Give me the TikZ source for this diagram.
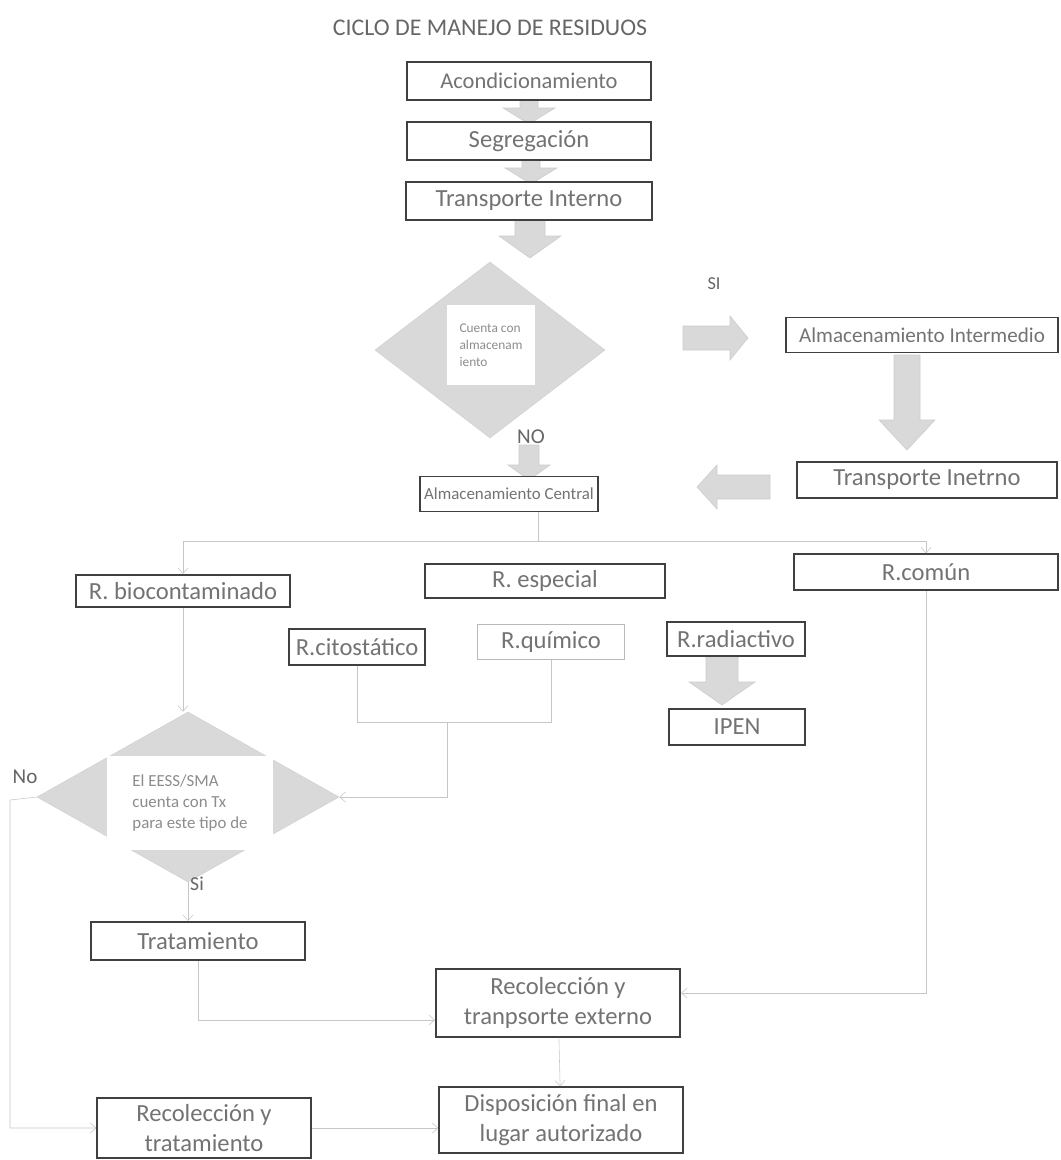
\documentclass[tikz,border=0pt]{standalone}
\usepackage{fontspec}
\setmainfont{Carlito}
\usetikzlibrary{shapes,arrows.meta,positioning,calc}

% flecha de bloque: cola, angulo, largo, medio cuerpo, media punta, largo punta
\newcommand{\blkarrow}[6]{\filldraw[fill=gray!30,draw=gray!40,shift={#1},rotate=#2] (0,-#4) -- ({#3-#6},-#4) -- ({#3-#6},-#5) -- (#3,0) -- ({#3-#6},#5) -- ({#3-#6},#4) -- (0,#4) -- cycle;}

\begin{document}
\begin{tikzpicture}[x=0.025cm,y=-0.025cm,node distance=1.5cm,>={Straight Barb[length=4pt,width=7pt]},
    box/.style={draw=black!75,line width=1.4pt,fill=white,text=black!55,font=\fontsize{17.5}{21}\selectfont,inner sep=1pt,minimum height=0.9cm,align=center},
    link/.style={draw=gray!45,thin},
    decision/.style={diamond,fill=gray!30,draw=gray!35,inner sep=0pt},
    note/.style={fill=white,text=black!45,align=left,inner sep=0pt},
    tag/.style={text=black!60,font=\fontsize{14}{16}\selectfont}]

                \useasboundingbox (0,0) rectangle (1061,1160);

                \node[tag, font=\fontsize{17}{20}\selectfont] (title) at (490,28) {CICLO DE MANEJO DE RESIDUOS};

                % flechas de bloque (debajo de las cajas)
                \blkarrow{(529,98)}{-90}{26}{9}{26}{16}
                \blkarrow{(531,158)}{-90}{26}{9}{26}{16}
                \blkarrow{(530,218)}{-90}{40}{15}{31}{22}
                \blkarrow{(683,338)}{0}{65}{12}{22}{18}
                \blkarrow{(907,355)}{-90}{95}{13}{28}{30}
                \blkarrow{(770,487)}{180}{73}{12}{22}{20}
                \blkarrow{(529,445)}{-90}{35}{10}{21}{15}
                \blkarrow{(722,656)}{-90}{49}{16}{33}{23}

                \node[box, font=\fontsize{16}{20}\selectfont, minimum width=6.1cm, minimum height=0.95cm] (acond) at (529,81) {Acondicionamiento};
                \node[box, minimum width=6.1cm, minimum height=0.95cm] (segreg) [below of = acond] {Segregación};
                \node[box, minimum width=6.15cm, minimum height=0.95cm] (trint) [below of = segreg] {Transporte Interno};

                \node[decision, minimum width=5.75cm, minimum height=4.4cm] (dec1) at (490,350) {};
                \node[note, font=\fontsize{9.5}{12}\selectfont, minimum width=2.2cm, minimum height=2cm] (q1) at (491,345) {Cuenta con\\almacenam\\iento};

                \node[tag, font=\fontsize{13}{15}\selectfont] (si1) at (714,284) {SI};
                \node[box, font=\fontsize{15}{18}\selectfont, minimum width=6.78cm, minimum height=0.875cm] (almint) at (922,335) {Almacenamiento Intermedio};
                \node[box, minimum width=6.5cm] (trinet) at (927,480) {Transporte Inetrno};

                \node[tag, font=\fontsize{15}{18}\selectfont] (no1) at (531,437) {NO};
                \node[box, font=\fontsize{12}{15}\selectfont, minimum width=4.43cm, minimum height=0.875cm] (central) at (509,494) {Almacenamiento Central};

                % tipos de residuo
                \node[box, minimum width=5.33cm, minimum height=0.8cm] (rbio) at (183,591) {R. biocontaminado};
                \node[box, minimum width=6cm, minimum height=0.83cm] (resp) at (545,581) {R. especial};
                \node[box, minimum width=6.58cm, minimum height=0.88cm] (rcomun) at (926,572) {R.común};
                \node[box, minimum width=3.38cm, minimum height=0.88cm] (rcito) at (357,647) {R.citostático};
                \node[box, draw=gray!55, line width=0.8pt, minimum width=3.68cm, minimum height=0.88cm] (rquim) at (551,642) {R.químico};
                \node[box, minimum width=3.45cm, minimum height=0.85cm] (rradio) at (736,639) {R.radiactivo};
                \node[box, minimum width=3.38cm, minimum height=0.88cm] (ipen) at (737,727) {IPEN};

                \node[decision, minimum width=7.55cm, minimum height=4.25cm] (dec2) at (188,797) {};
                \node[note, font=\fontsize{12}{15}\selectfont, minimum width=4.13cm, minimum height=2.33cm] (q2) at (190,803) {El EESS/SMA\\cuenta con Tx\\para este tipo de};
                \node[tag, font=\fontsize{15}{18}\selectfont] (no2) at (25,777) {No};
                \node[tag] (si2) at (197,884) {Si};

                \node[box, minimum width=5.33cm, minimum height=0.95cm] (trat) at (198,941) {Tratamiento};
                \node[box, minimum width=6.1cm, minimum height=1.68cm] (recoltrans) at (558,1003) {Recolección y\\tranpsorte externo};
                \node[box, minimum width=6.08cm, minimum height=1.63cm] (dispfinal) at (561,1120) {Disposición final en\\lugar autorizado};
                \node[box, minimum width=5.33cm, minimum height=1.5cm] (recoltrat) at (204,1128) {Recolección y\\tratamiento};

                \coordinate (split) at (538,541);
                \coordinate (cq) at (447,722);
                \coordinate (nol) at (10,800);

                \draw[link] (central.south -| split) -- (split);
                \draw[link,->] (split) -| (rbio.north);
                \draw[link,->] (split) -| (rcomun.north);
                \draw[link] (rcito.south) |- (cq) -| (rquim.south);
                \draw[link,->] (cq) |- (dec2.east);
                \draw[link,->] (rbio.south) -- (rbio.south |- dec2.north);
                \draw[link,->] (dec2.west) -- (nol) |- (recoltrat.west);
                \draw[link,->] (dec2.south) -- (dec2.south |- trat.north);
                \draw[link,->] (trat.south) |- ($(recoltrans.west)+(0,17)$);
                \draw[link,->] (rcomun.south) |- ($(recoltrans.east)+(0,-10)$);
                \draw[link,->] (recoltrans) -- (dispfinal);
                \draw[link,->] (recoltrat.east) -- (dispfinal.west |- recoltrat.east);
            \end{tikzpicture}
\end{document}
